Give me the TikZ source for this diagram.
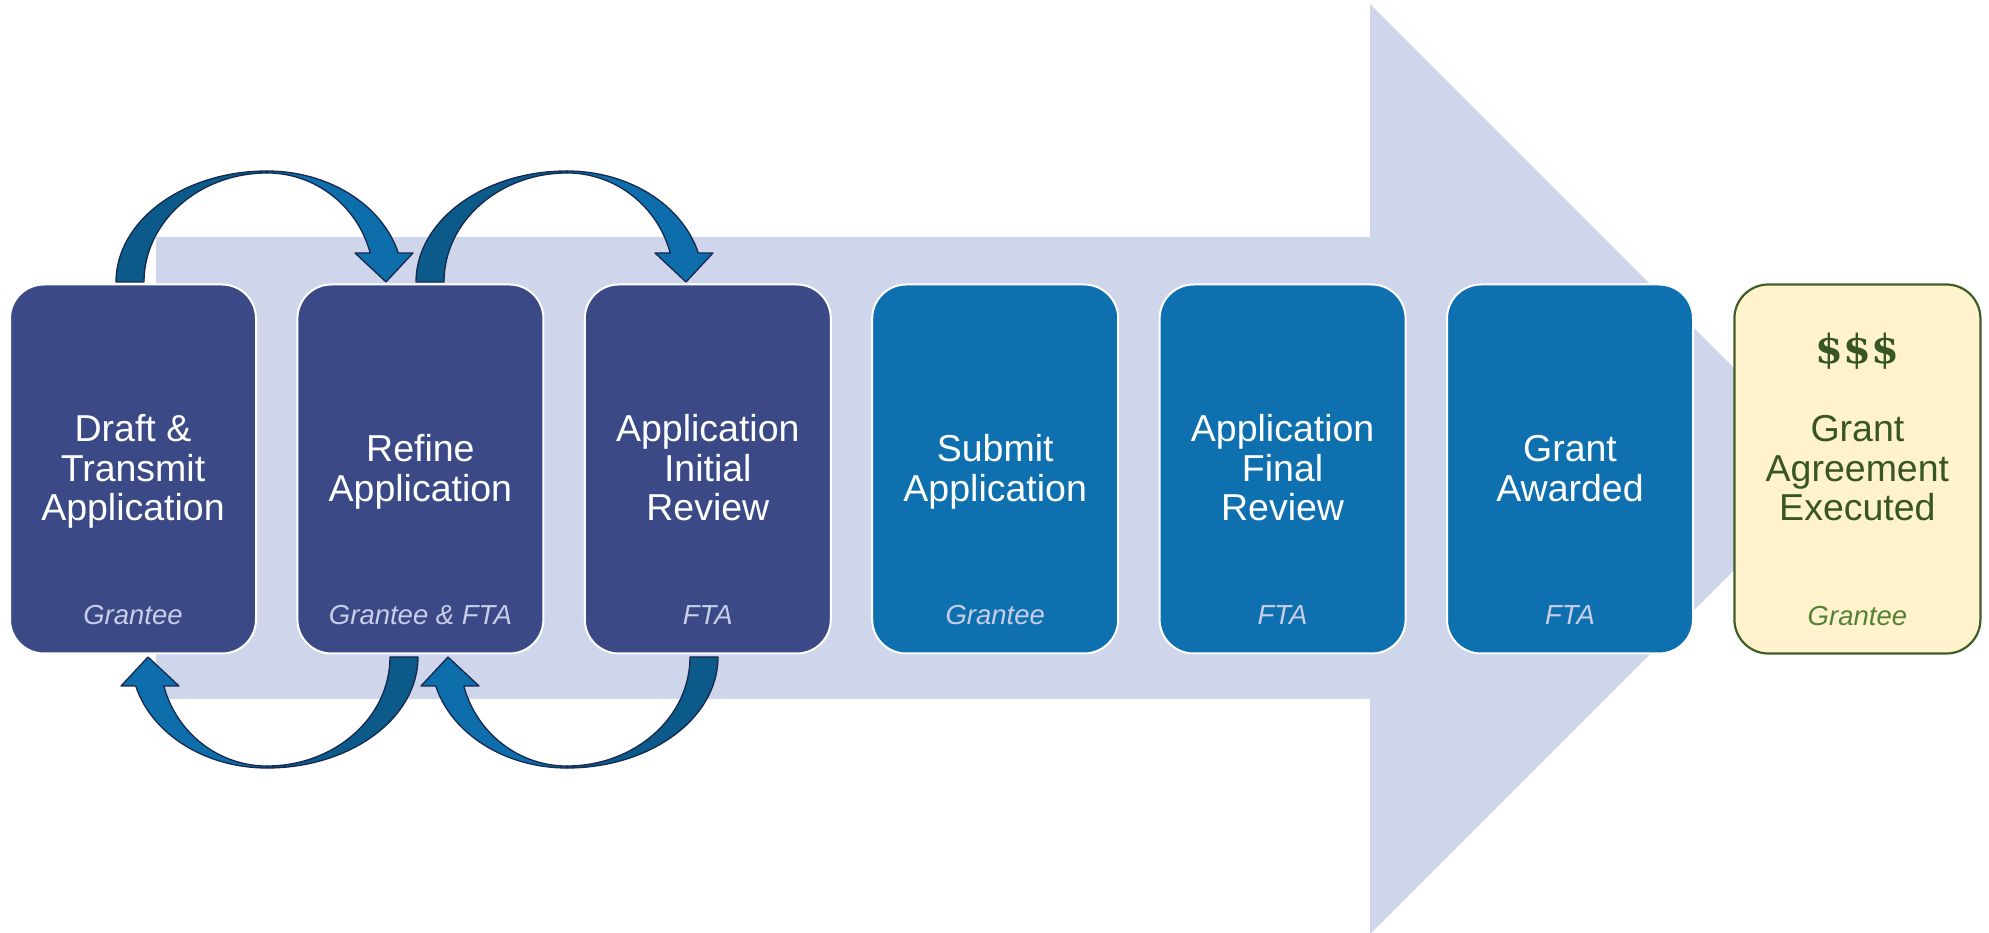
\documentclass[tikz,border=0pt]{standalone}
\usepackage{fontspec}
\setmainfont{Liberation Sans}
\newfontfamily\dollarfont{DejaVu Serif}
\usetikzlibrary{calc}
\definecolor{boxdark}{RGB}{59,74,134}
\definecolor{boxblue}{RGB}{14,112,174}
\definecolor{bigarrow}{RGB}{207,213,234}
\definecolor{subtxt}{RGB}{200,205,232}
\definecolor{goldfill}{RGB}{255,242,204}
\definecolor{greenline}{RGB}{62,94,38}
\definecolor{greentxt}{RGB}{55,86,35}
\definecolor{greensub}{RGB}{84,130,53}
\definecolor{arrdark}{RGB}{11,90,138}
\definecolor{arrlight}{RGB}{14,110,171}
\definecolor{arrline}{RGB}{22,40,78}
\begin{document}
\begin{tikzpicture}[x=1pt,y=1pt,
  stepbox/.style={rectangle, rounded corners=34pt, minimum width=246pt, minimum height=369pt, inner sep=0pt, draw=white, line width=2pt},
  darkbox/.style={stepbox, fill=boxdark},
  bluebox/.style={stepbox, fill=boxblue},
  goldbox/.style={stepbox, fill=goldfill, draw=greenline, line width=2.2pt},
  maintext/.style={align=center, text=white, font=\fontsize{37.5}{39.5}\selectfont, inner sep=0pt},
  subtext/.style={anchor=base, text=subtxt, font=\fontsize{27.5}{30}\selectfont\itshape, inner sep=0pt},
  arrpiece/.style={draw=arrline, line width=1.3pt, line join=round},
  pics/looparrow/.style={code={
    \path[arrpiece, fill=arrdark] (-151,0) arc[start angle=180, end angle=90, x radius=151pt, y radius=111pt]
      -- (0,109) arc[start angle=90, end angle=180, x radius=123pt, y radius=109pt] -- cycle;
    \path[arrpiece, fill=arrlight] (0,111) arc[start angle=90, end angle=15.1, x radius=136pt, y radius=111pt]
      -- (146,29) -- (119,0) -- (88,29) -- (103.2,29)
      arc[start angle=15.4, end angle=90, x radius=107pt, y radius=109pt] -- cycle;
  }}
]
\useasboundingbox (0,0) rectangle (1989,932);
% big background arrow
\fill[bigarrow] (156,695) -- (1370,695) -- (1370,928) -- (1835,463) -- (1370,-2) -- (1370,233) -- (156,233) -- cycle;

% boxes
\node[darkbox] (b1) at (133,463) {};
\node[darkbox] (b2) at (420.4,463) {};
\node[darkbox] (b3) at (707.8,463) {};
\node[bluebox] (b4) at (995.2,463) {};
\node[bluebox] (b5) at (1282.6,463) {};
\node[bluebox] (b6) at (1570,463) {};
\node[goldbox] (b7) at (1857.4,463) {};

% main texts
\node[maintext] (m1) at ($(b1.center)+(0,-4.6)$) {Draft \&\strut\\Transmit\strut\\Application\strut};
\node[maintext] (m2) at ($(b2.center)+(0,-4.6)$) {Refine\strut\\Application\strut};
\node[maintext] (m3) at ($(b3.center)+(0,-4.6)$) {Application\strut\\Initial\strut\\Review\strut};
\node[maintext] (m4) at ($(b4.center)+(0,-4.6)$) {Submit\strut\\Application\strut};
\node[maintext] (m5) at ($(b5.center)+(0,-4.6)$) {Application\strut\\Final\strut\\Review\strut};
\node[maintext] (m6) at ($(b6.center)+(0,-4.6)$) {Grant\strut\\Awarded\strut};
\node[maintext, text=greentxt] (m7) at ($(b7.center)+(0,-4.6)$) {Grant\strut\\Agreement\strut\\Executed\strut};
\node[text=greentxt, inner sep=0pt, font=\dollarfont\bfseries\fontsize{40}{44}\selectfont] (d7) at ($(b7.center)+(0,118)$) {\$\$\$};

% subtitles
\node[subtext] (s1) at ($(b1.south)+(0,29.5)$) {Grantee};
\node[subtext] (s2) at ($(b2.south)+(0,29.5)$) {Grantee \& FTA};
\node[subtext] (s3) at ($(b3.south)+(0,29.5)$) {FTA};
\node[subtext] (s4) at ($(b4.south)+(0,29.5)$) {Grantee};
\node[subtext] (s5) at ($(b5.south)+(0,29.5)$) {FTA};
\node[subtext] (s6) at ($(b6.south)+(0,29.5)$) {FTA};
\node[subtext, text=greensub] (s7) at ($(b7.south)+(0,29.5)$) {Grantee};

% curved loop arrows
\coordinate (t1) at (267,650);
\coordinate (t2) at (567,650);
\coordinate (u1) at (267,275);
\coordinate (u2) at (567,275);
\pic at (t1) {looparrow};
\pic at (t2) {looparrow};
\pic[rotate=180] at (u1) {looparrow};
\pic[rotate=180] at (u2) {looparrow};
\end{tikzpicture}
\end{document}
